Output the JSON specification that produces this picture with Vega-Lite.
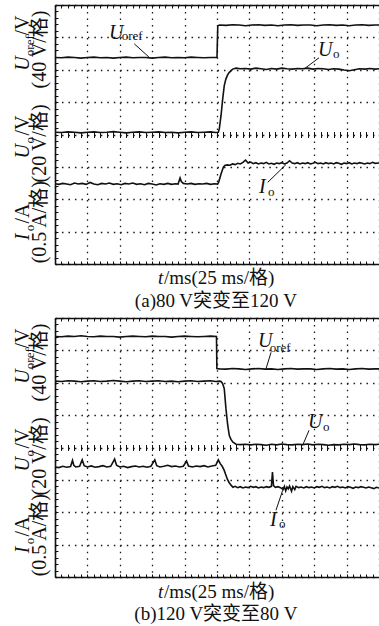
{
"$schema": "https://vega.github.io/schema/vega-lite/v6.json",
"background": "white",
"padding": {"left": 12, "top": 4, "right": 0, "bottom": 0},
"config": {"view": {"stroke": null}, "font": "Liberation Serif"},
"spacing": 54,
"bounds": "flush",
"datasets": {
"ta": [
{"s":"r","t":0,"v":6.38},{"s":"r","t":5,"v":6.37},{"s":"r","t":10,"v":6.39},{"s":"r","t":15,"v":6.38},{"s":"r","t":20,"v":6.36},{"s":"r","t":25,"v":6.38},{"s":"r","t":30,"v":6.39},{"s":"r","t":35,"v":6.37},{"s":"r","t":40,"v":6.38},{"s":"r","t":45,"v":6.36},{"s":"r","t":50,"v":6.38},{"s":"r","t":55,"v":6.39},{"s":"r","t":60,"v":6.37},{"s":"r","t":65,"v":6.38},{"s":"r","t":70,"v":6.38},{"s":"r","t":75,"v":6.36},{"s":"r","t":80,"v":6.38},{"s":"r","t":85,"v":6.39},{"s":"r","t":90,"v":6.37},{"s":"r","t":95,"v":6.38},{"s":"r","t":100,"v":6.37},{"s":"r","t":105,"v":6.39},{"s":"r","t":110,"v":6.38},{"s":"r","t":115,"v":6.37},{"s":"r","t":120,"v":6.38},{"s":"r","t":125,"v":6.38},{"s":"r","t":125.6,"v":7.36},{"s":"r","t":127,"v":7.38},{"s":"r","t":132,"v":7.37},{"s":"r","t":137,"v":7.39},{"s":"r","t":142,"v":7.38},{"s":"r","t":147,"v":7.36},{"s":"r","t":152,"v":7.38},{"s":"r","t":157,"v":7.39},{"s":"r","t":162,"v":7.37},{"s":"r","t":167,"v":7.38},{"s":"r","t":172,"v":7.36},{"s":"r","t":177,"v":7.38},{"s":"r","t":182,"v":7.39},{"s":"r","t":187,"v":7.37},{"s":"r","t":192,"v":7.38},{"s":"r","t":197,"v":7.38},{"s":"r","t":202,"v":7.36},{"s":"r","t":207,"v":7.38},{"s":"r","t":212,"v":7.39},{"s":"r","t":217,"v":7.37},{"s":"r","t":222,"v":7.38},{"s":"r","t":227,"v":7.36},{"s":"r","t":232,"v":7.38},{"s":"r","t":237,"v":7.39},{"s":"r","t":242,"v":7.37},{"s":"r","t":247,"v":7.38},{"s":"r","t":250,"v":7.38},
{"s":"o","t":0,"v":4.07},{"s":"o","t":5,"v":4.06},{"s":"o","t":10,"v":4.08},{"s":"o","t":15,"v":4.07},{"s":"o","t":20,"v":4.05},{"s":"o","t":25,"v":4.07},{"s":"o","t":30,"v":4.08},{"s":"o","t":35,"v":4.06},{"s":"o","t":40,"v":4.07},{"s":"o","t":45,"v":4.09},{"s":"o","t":50,"v":4.07},{"s":"o","t":55,"v":4.05},{"s":"o","t":60,"v":4.07},{"s":"o","t":65,"v":4.08},{"s":"o","t":70,"v":4.06},{"s":"o","t":75,"v":4.07},{"s":"o","t":80,"v":4.08},{"s":"o","t":85,"v":4.06},{"s":"o","t":90,"v":4.07},{"s":"o","t":95,"v":4.05},{"s":"o","t":100,"v":4.07},{"s":"o","t":105,"v":4.08},{"s":"o","t":110,"v":4.06},{"s":"o","t":115,"v":4.07},{"s":"o","t":120,"v":4.08},{"s":"o","t":124,"v":4.06},{"s":"o","t":126,"v":4.07},{"s":"o","t":126.8,"v":4.18},{"s":"o","t":128.1,"v":4.58},{"s":"o","t":129.4,"v":5.1},{"s":"o","t":130.6,"v":5.51},{"s":"o","t":131.9,"v":5.72},{"s":"o","t":133.2,"v":5.84},{"s":"o","t":134.5,"v":5.92},{"s":"o","t":137.1,"v":6.02},{"s":"o","t":139.7,"v":6.05},{"s":"o","t":143,"v":6.03},{"s":"o","t":147,"v":6.04},{"s":"o","t":151,"v":6.02},{"s":"o","t":155,"v":6.05},{"s":"o","t":159,"v":6.03},{"s":"o","t":163,"v":6.01},{"s":"o","t":167,"v":6.04},{"s":"o","t":171,"v":6.02},{"s":"o","t":175,"v":6.05},{"s":"o","t":179,"v":6.03},{"s":"o","t":183,"v":6.02},{"s":"o","t":187,"v":6.04},{"s":"o","t":191,"v":6.03},{"s":"o","t":195,"v":6.05},{"s":"o","t":199,"v":6.02},{"s":"o","t":203,"v":6.04},{"s":"o","t":207,"v":6.03},{"s":"o","t":211,"v":6.01},{"s":"o","t":215,"v":6.03},{"s":"o","t":219,"v":6.02},{"s":"o","t":223,"v":5.99},{"s":"o","t":227,"v":5.97},{"s":"o","t":231,"v":6.0},{"s":"o","t":235,"v":6.03},{"s":"o","t":239,"v":6.02},{"s":"o","t":243,"v":6.04},{"s":"o","t":247,"v":6.02},{"s":"o","t":250,"v":6.03},
{"s":"i","t":0,"v":2.48},{"s":"i","t":3,"v":2.46},{"s":"i","t":6,"v":2.49},{"s":"i","t":9,"v":2.47},{"s":"i","t":12,"v":2.45},{"s":"i","t":15,"v":2.5},{"s":"i","t":18,"v":2.47},{"s":"i","t":21,"v":2.49},{"s":"i","t":24,"v":2.46},{"s":"i","t":27,"v":2.52},{"s":"i","t":30,"v":2.47},{"s":"i","t":33,"v":2.45},{"s":"i","t":36,"v":2.49},{"s":"i","t":39,"v":2.47},{"s":"i","t":42,"v":2.5},{"s":"i","t":45,"v":2.46},{"s":"i","t":48,"v":2.48},{"s":"i","t":51,"v":2.45},{"s":"i","t":54,"v":2.49},{"s":"i","t":57,"v":2.47},{"s":"i","t":60,"v":2.5},{"s":"i","t":63,"v":2.46},{"s":"i","t":66,"v":2.48},{"s":"i","t":69,"v":2.45},{"s":"i","t":72,"v":2.49},{"s":"i","t":75,"v":2.47},{"s":"i","t":78,"v":2.44},{"s":"i","t":81,"v":2.48},{"s":"i","t":84,"v":2.46},{"s":"i","t":87,"v":2.49},{"s":"i","t":90,"v":2.46},{"s":"i","t":93,"v":2.48},{"s":"i","t":95,"v":2.47},{"s":"i","t":96.5,"v":2.66},{"s":"i","t":97.5,"v":2.55},{"s":"i","t":99,"v":2.49},{"s":"i","t":102,"v":2.47},{"s":"i","t":105,"v":2.49},{"s":"i","t":108,"v":2.46},{"s":"i","t":111,"v":2.48},{"s":"i","t":114,"v":2.47},{"s":"i","t":117,"v":2.49},{"s":"i","t":120,"v":2.46},{"s":"i","t":123,"v":2.48},{"s":"i","t":125.5,"v":2.47},{"s":"i","t":126.3,"v":2.53},{"s":"i","t":128.1,"v":2.78},{"s":"i","t":129.9,"v":2.99},{"s":"i","t":131,"v":3.04},{"s":"i","t":133,"v":3.06},{"s":"i","t":135,"v":3.05},{"s":"i","t":137,"v":3.09},{"s":"i","t":139,"v":3.07},{"s":"i","t":141,"v":3.11},{"s":"i","t":143,"v":3.09},{"s":"i","t":145,"v":3.14},{"s":"i","t":147,"v":3.21},{"s":"i","t":149,"v":3.12},{"s":"i","t":151,"v":3.15},{"s":"i","t":153,"v":3.1},{"s":"i","t":155,"v":3.13},{"s":"i","t":157,"v":3.09},{"s":"i","t":159,"v":3.12},{"s":"i","t":161,"v":3.1},{"s":"i","t":163,"v":3.14},{"s":"i","t":165,"v":3.09},{"s":"i","t":167,"v":3.11},{"s":"i","t":169,"v":3.08},{"s":"i","t":171,"v":3.12},{"s":"i","t":173,"v":3.1},{"s":"i","t":175,"v":3.13},{"s":"i","t":177,"v":3.09},{"s":"i","t":179,"v":3.12},{"s":"i","t":181,"v":3.19},{"s":"i","t":183,"v":3.12},{"s":"i","t":185,"v":3.1},{"s":"i","t":187,"v":3.13},{"s":"i","t":189,"v":3.09},{"s":"i","t":191,"v":3.12},{"s":"i","t":193,"v":3.1},{"s":"i","t":195,"v":3.13},{"s":"i","t":197,"v":3.09},{"s":"i","t":199,"v":3.11},{"s":"i","t":201,"v":3.14},{"s":"i","t":203,"v":3.1},{"s":"i","t":205,"v":3.12},{"s":"i","t":207,"v":3.09},{"s":"i","t":209,"v":3.13},{"s":"i","t":211,"v":3.1},{"s":"i","t":213,"v":3.12},{"s":"i","t":215,"v":3.09},{"s":"i","t":217,"v":3.13},{"s":"i","t":219,"v":3.11},{"s":"i","t":221,"v":3.08},{"s":"i","t":223,"v":3.12},{"s":"i","t":225,"v":3.1},{"s":"i","t":227,"v":3.13},{"s":"i","t":229,"v":3.09},{"s":"i","t":231,"v":3.12},{"s":"i","t":233,"v":3.1},{"s":"i","t":235,"v":3.13},{"s":"i","t":237,"v":3.11},{"s":"i","t":239,"v":3.09},{"s":"i","t":241,"v":3.12},{"s":"i","t":243,"v":3.1},{"s":"i","t":245,"v":3.14},{"s":"i","t":247,"v":3.11},{"s":"i","t":250,"v":3.12}
],
"tb": [
{"s":"r","t":0,"v":7.43},{"s":"r","t":5,"v":7.42},{"s":"r","t":10,"v":7.44},{"s":"r","t":15,"v":7.43},{"s":"r","t":20,"v":7.45},{"s":"r","t":25,"v":7.43},{"s":"r","t":30,"v":7.42},{"s":"r","t":35,"v":7.44},{"s":"r","t":40,"v":7.43},{"s":"r","t":45,"v":7.43},{"s":"r","t":50,"v":7.41},{"s":"r","t":55,"v":7.43},{"s":"r","t":60,"v":7.44},{"s":"r","t":65,"v":7.43},{"s":"r","t":70,"v":7.42},{"s":"r","t":75,"v":7.44},{"s":"r","t":80,"v":7.43},{"s":"r","t":85,"v":7.43},{"s":"r","t":90,"v":7.41},{"s":"r","t":95,"v":7.43},{"s":"r","t":100,"v":7.44},{"s":"r","t":105,"v":7.43},{"s":"r","t":110,"v":7.42},{"s":"r","t":115,"v":7.43},{"s":"r","t":120,"v":7.44},{"s":"r","t":124.6,"v":7.43},{"s":"r","t":124.9,"v":6.44},{"s":"r","t":127,"v":6.43},{"s":"r","t":132,"v":6.42},{"s":"r","t":137,"v":6.44},{"s":"r","t":142,"v":6.43},{"s":"r","t":147,"v":6.41},{"s":"r","t":152,"v":6.43},{"s":"r","t":157,"v":6.44},{"s":"r","t":162,"v":6.42},{"s":"r","t":167,"v":6.43},{"s":"r","t":172,"v":6.41},{"s":"r","t":177,"v":6.43},{"s":"r","t":182,"v":6.44},{"s":"r","t":187,"v":6.42},{"s":"r","t":192,"v":6.43},{"s":"r","t":197,"v":6.43},{"s":"r","t":202,"v":6.41},{"s":"r","t":207,"v":6.43},{"s":"r","t":212,"v":6.44},{"s":"r","t":217,"v":6.42},{"s":"r","t":222,"v":6.43},{"s":"r","t":227,"v":6.41},{"s":"r","t":232,"v":6.43},{"s":"r","t":237,"v":6.44},{"s":"r","t":242,"v":6.42},{"s":"r","t":247,"v":6.43},{"s":"r","t":250,"v":6.43},
{"s":"o","t":0,"v":6.05},{"s":"o","t":5,"v":6.04},{"s":"o","t":10,"v":6.06},{"s":"o","t":15,"v":6.05},{"s":"o","t":20,"v":6.03},{"s":"o","t":25,"v":6.05},{"s":"o","t":30,"v":6.06},{"s":"o","t":35,"v":6.04},{"s":"o","t":40,"v":6.05},{"s":"o","t":45,"v":6.07},{"s":"o","t":50,"v":6.05},{"s":"o","t":55,"v":6.03},{"s":"o","t":60,"v":6.05},{"s":"o","t":65,"v":6.06},{"s":"o","t":70,"v":6.04},{"s":"o","t":75,"v":6.05},{"s":"o","t":80,"v":6.06},{"s":"o","t":85,"v":6.04},{"s":"o","t":90,"v":6.05},{"s":"o","t":95,"v":6.03},{"s":"o","t":100,"v":6.05},{"s":"o","t":105,"v":6.06},{"s":"o","t":110,"v":6.04},{"s":"o","t":115,"v":6.05},{"s":"o","t":120,"v":6.06},{"s":"o","t":124,"v":6.04},{"s":"o","t":127,"v":6.05},{"s":"o","t":128.1,"v":6.04},{"s":"o","t":129.3,"v":5.98},{"s":"o","t":130.6,"v":5.82},{"s":"o","t":131.9,"v":5.2},{"s":"o","t":133.3,"v":4.68},{"s":"o","t":134.5,"v":4.37},{"s":"o","t":135.8,"v":4.25},{"s":"o","t":137.1,"v":4.17},{"s":"o","t":139.7,"v":4.1},{"s":"o","t":143,"v":4.09},{"s":"o","t":147,"v":4.1},{"s":"o","t":151,"v":4.08},{"s":"o","t":155,"v":4.1},{"s":"o","t":159,"v":4.09},{"s":"o","t":163,"v":4.07},{"s":"o","t":167,"v":4.1},{"s":"o","t":171,"v":4.08},{"s":"o","t":175,"v":4.11},{"s":"o","t":179,"v":4.09},{"s":"o","t":183,"v":4.08},{"s":"o","t":187,"v":4.1},{"s":"o","t":191,"v":4.09},{"s":"o","t":195,"v":4.11},{"s":"o","t":199,"v":4.08},{"s":"o","t":203,"v":4.1},{"s":"o","t":207,"v":4.09},{"s":"o","t":211,"v":4.07},{"s":"o","t":215,"v":4.09},{"s":"o","t":219,"v":4.08},{"s":"o","t":223,"v":4.1},{"s":"o","t":227,"v":4.09},{"s":"o","t":231,"v":4.11},{"s":"o","t":235,"v":4.09},{"s":"o","t":239,"v":4.08},{"s":"o","t":243,"v":4.1},{"s":"o","t":247,"v":4.09},{"s":"o","t":250,"v":4.1},
{"s":"i","t":0,"v":3.4},{"s":"i","t":3,"v":3.38},{"s":"i","t":6,"v":3.42},{"s":"i","t":9,"v":3.39},{"s":"i","t":12,"v":3.41},{"s":"i","t":13.5,"v":3.6},{"s":"i","t":14.5,"v":3.45},{"s":"i","t":16,"v":3.4},{"s":"i","t":19,"v":3.42},{"s":"i","t":21,"v":3.62},{"s":"i","t":22.5,"v":3.44},{"s":"i","t":25,"v":3.4},{"s":"i","t":28,"v":3.43},{"s":"i","t":31,"v":3.39},{"s":"i","t":34,"v":3.41},{"s":"i","t":37,"v":3.44},{"s":"i","t":40,"v":3.4},{"s":"i","t":43,"v":3.42},{"s":"i","t":46,"v":3.64},{"s":"i","t":47.5,"v":3.45},{"s":"i","t":50,"v":3.4},{"s":"i","t":53,"v":3.42},{"s":"i","t":56,"v":3.38},{"s":"i","t":59,"v":3.41},{"s":"i","t":62,"v":3.43},{"s":"i","t":65,"v":3.4},{"s":"i","t":68,"v":3.42},{"s":"i","t":71,"v":3.39},{"s":"i","t":74,"v":3.42},{"s":"i","t":77,"v":3.62},{"s":"i","t":78.5,"v":3.44},{"s":"i","t":81,"v":3.4},{"s":"i","t":84,"v":3.42},{"s":"i","t":87,"v":3.45},{"s":"i","t":90,"v":3.41},{"s":"i","t":93,"v":3.43},{"s":"i","t":96,"v":3.4},{"s":"i","t":99,"v":3.42},{"s":"i","t":101.5,"v":3.58},{"s":"i","t":103,"v":3.43},{"s":"i","t":106,"v":3.4},{"s":"i","t":109,"v":3.43},{"s":"i","t":112,"v":3.41},{"s":"i","t":115,"v":3.44},{"s":"i","t":118,"v":3.4},{"s":"i","t":121,"v":3.43},{"s":"i","t":124,"v":3.45},{"s":"i","t":126,"v":3.62},{"s":"i","t":127.5,"v":3.5},{"s":"i","t":129,"v":3.42},{"s":"i","t":130.5,"v":3.3},{"s":"i","t":131.9,"v":3.14},{"s":"i","t":133,"v":3.02},{"s":"i","t":134.3,"v":2.92},{"s":"i","t":136,"v":2.83},{"s":"i","t":137.3,"v":2.77},{"s":"i","t":139,"v":2.8},{"s":"i","t":141,"v":2.76},{"s":"i","t":143,"v":2.79},{"s":"i","t":145,"v":2.75},{"s":"i","t":147,"v":2.78},{"s":"i","t":149,"v":2.76},{"s":"i","t":151,"v":2.8},{"s":"i","t":153,"v":2.77},{"s":"i","t":155,"v":2.79},{"s":"i","t":157,"v":2.75},{"s":"i","t":159,"v":2.78},{"s":"i","t":161,"v":2.76},{"s":"i","t":163,"v":2.79},{"s":"i","t":165,"v":2.77},{"s":"i","t":167,"v":2.8},{"s":"i","t":167.8,"v":3.24},{"s":"i","t":168.6,"v":2.82},{"s":"i","t":170,"v":2.77},{"s":"i","t":172,"v":2.79},{"s":"i","t":174,"v":2.76},{"s":"i","t":176,"v":2.7},{"s":"i","t":177,"v":2.8},{"s":"i","t":178,"v":2.66},{"s":"i","t":179,"v":2.78},{"s":"i","t":180,"v":2.72},{"s":"i","t":181,"v":2.81},{"s":"i","t":182.5,"v":2.65},{"s":"i","t":183.5,"v":2.79},{"s":"i","t":185,"v":2.7},{"s":"i","t":186,"v":2.8},{"s":"i","t":188,"v":2.76},{"s":"i","t":190,"v":2.78},{"s":"i","t":192,"v":2.75},{"s":"i","t":194,"v":2.79},{"s":"i","t":196,"v":2.76},{"s":"i","t":198,"v":2.78},{"s":"i","t":200,"v":2.75},{"s":"i","t":202,"v":2.79},{"s":"i","t":204,"v":2.77},{"s":"i","t":206,"v":2.8},{"s":"i","t":208,"v":2.76},{"s":"i","t":210,"v":2.78},{"s":"i","t":212,"v":2.75},{"s":"i","t":214,"v":2.79},{"s":"i","t":216,"v":2.77},{"s":"i","t":218,"v":2.8},{"s":"i","t":220,"v":2.76},{"s":"i","t":222,"v":2.78},{"s":"i","t":224,"v":2.75},{"s":"i","t":226,"v":2.79},{"s":"i","t":228,"v":2.77},{"s":"i","t":230,"v":2.74},{"s":"i","t":232,"v":2.78},{"s":"i","t":234,"v":2.76},{"s":"i","t":236,"v":2.79},{"s":"i","t":238,"v":2.77},{"s":"i","t":240,"v":2.75},{"s":"i","t":242,"v":2.78},{"s":"i","t":244,"v":2.76},{"s":"i","t":246,"v":2.73},{"s":"i","t":248,"v":2.77},{"s":"i","t":250,"v":2.75}
],
"la": [
{"k":"v","txt":"U","t":41.7,"v":6.96},{"k":"s","txt":"oref","t":51.5,"v":6.91},
{"k":"v","txt":"U","t":202.9,"v":6.43},{"k":"s","txt":"o","t":214.5,"v":6.37},
{"k":"v","txt":"I","t":157.4,"v":2.18},{"k":"s","txt":"o","t":164.4,"v":2.11},
{"k":"bv","txt":"t","t":79.5,"v":-0.44},{"k":"bn","txt":"/ms(25 ms/格)","t":84.1,"v":-0.44},
{"k":"bc","txt":"(a)80 V突变至120 V","t":124.2,"v":-1.13}
],
"lb": [
{"k":"v","txt":"U","t":156.6,"v":7.09},{"k":"s","txt":"oref","t":165.7,"v":6.95},
{"k":"v","txt":"U","t":195.2,"v":4.59},{"k":"s","txt":"o","t":206.8,"v":4.5},
{"k":"v","txt":"I","t":165.9,"v":1.59},{"k":"s","txt":"o","t":172.8,"v":1.5},
{"k":"bv","txt":"t","t":79.5,"v":-0.46},{"k":"bn","txt":"/ms(25 ms/格)","t":84.1,"v":-0.46},
{"k":"bc","txt":"(b)120 V突变至80 V","t":124.2,"v":-1.13}
],
"ax": [
{"k":"v","txt":"U","t":-20.1,"v":5.97},{"k":"s","txt":"oref","t":-16.2,"v":6.42},{"k":"n","txt":"/V","t":-20.1,"v":7.06},{"k":"n","txt":"(40 V/格)","t":-6.6,"v":5.42},
{"k":"v","txt":"U","t":-20.1,"v":3.26},{"k":"s","txt":"o","t":-16.2,"v":3.72},{"k":"n","txt":"/V","t":-20.1,"v":3.97},{"k":"n","txt":"(20 V/格)","t":-6.6,"v":2.52},
{"k":"v","txt":"I","t":-20.1,"v":0.73},{"k":"s","txt":"o","t":-16.2,"v":1.01},{"k":"n","txt":"/A","t":-20.1,"v":1.25},{"k":"n","txt":"(0.5 A/格)","t":-6.6,"v":0.02}
],
"da": [
{"t":61.2,"v":6.8,"t2":72.8,"v2":6.38},{"t":203.7,"v":6.37,"t2":192.1,"v2":6.02},{"t":164.1,"v":2.52,"t2":178.2,"v2":3.07}
],
"db": [
{"t":166.7,"v":6.94,"t2":162.8,"v2":6.43},{"t":196.0,"v":4.53,"t2":191.1,"v2":4.07},{"t":170.5,"v":2.06,"t2":175.7,"v2":2.68}
]
},
"vconcat": [
{
"width": 324, "height": 259,
"resolve": {"axis": {"x": "independent", "y": "independent"}},
"layer": [
{"data": {"name": "ta"}, "mark": {"type": "line", "color": "#111", "strokeWidth": 1.6},
 "encoding": {
  "x": {"field": "t", "type": "quantitative", "scale": {"domain": [0, 250], "nice": false, "zero": false},
   "axis": {"orient": "bottom", "values": [0,25,50,75,100,125,150,175,200,225,250], "grid": true, "gridDash": [1.5, 4.98], "gridColor": "#1a1a1a", "gridWidth": 1.3, "gridOpacity": 1, "ticks": false, "labels": false, "domain": true, "domainColor": "#111", "domainWidth": 1.6, "title": null}},
  "y": {"field": "v", "type": "quantitative", "scale": {"domain": [0, 8], "nice": false, "zero": false},
   "axis": {"orient": "left", "values": [0,1,2,3,4,5,6,7,8], "grid": true, "gridDash": [1.5, 4.98], "gridColor": "#1a1a1a", "gridWidth": 1.3, "gridOpacity": 1, "ticks": false, "labels": false, "domain": true, "domainColor": "#111", "domainWidth": 1.6, "title": null}},
  "detail": {"field": "s"}
 }},
{"data": {"name": "da"}, "mark": {"type": "rule", "color": "#111", "strokeWidth": 1},
 "encoding": {
  "x": {"field": "t", "type": "quantitative", "axis": {"orient": "top", "values": [0,5,10,15,20,25,30,35,40,45,50,55,60,65,70,75,80,85,90,95,100,105,110,115,120,125,130,135,140,145,150,155,160,165,170,175,180,185,190,195,200,205,210,215,220,225,230,235,240,245,250], "ticks": true, "tickSize": -3, "tickColor": "#111", "tickWidth": 1, "labels": false, "grid": false, "domain": true, "domainColor": "#111", "domainWidth": 1.6, "title": null}},
  "y": {"field": "v", "type": "quantitative", "axis": null},
  "x2": {"field": "t2"}, "y2": {"field": "v2"}
 }},
{"mark": {"type": "rule", "color": "#8a8a8a", "strokeWidth": 3, "strokeDash": [3, 1.5]},
 "encoding": {"x": {"datum": 125, "type": "quantitative", "axis": null}}},
{"mark": {"type": "point", "shape": "triangle-left", "filled": true, "color": "#111", "size": 45, "opacity": 1},
 "encoding": {"x": {"datum": 247.5, "type": "quantitative", "axis": null}, "y": {"datum": 4.86, "type": "quantitative", "axis": null}}},
{"data": {"name": "la"}, "transform": [{"filter": "datum.k == 'v'"}],
 "mark": {"type": "text", "font": "Liberation Serif", "fontStyle": "italic", "fontSize": 20, "align": "left", "baseline": "alphabetic", "color": "#111"},
 "encoding": {
  "x": {"field": "t", "type": "quantitative", "axis": {"orient": "bottom", "values": [0,5,10,15,20,25,30,35,40,45,50,55,60,65,70,75,80,85,90,95,100,105,110,115,120,125,130,135,140,145,150,155,160,165,170,175,180,185,190,195,200,205,210,215,220,225,230,235,240,245,250], "ticks": true, "tickSize": -3, "tickColor": "#111", "tickWidth": 1, "labels": false, "grid": false, "domain": false, "title": null}},
  "y": {"field": "v", "type": "quantitative", "axis": {"orient": "left", "values": [0,0.2,0.4,0.6,0.8,1,1.2,1.4,1.6,1.8,2,2.2,2.4,2.6,2.8,3,3.2,3.4,3.6,3.8,4,4.2,4.4,4.6,4.8,5,5.2,5.4,5.6,5.8,6,6.2,6.4,6.6,6.8,7,7.2,7.4,7.6,7.8,8], "ticks": true, "tickSize": -3, "tickColor": "#111", "tickWidth": 1, "labels": false, "grid": false, "domain": false, "title": null}},
  "text": {"field": "txt"}
 }},
{"data": {"name": "la"}, "transform": [{"filter": "datum.k == 's'"}],
 "mark": {"type": "text", "font": "Liberation Serif", "fontSize": 13, "align": "left", "baseline": "alphabetic", "color": "#111"},
 "encoding": {
  "x": {"field": "t", "type": "quantitative", "axis": {"orient": "bottom", "offset": -132.5, "values": [0,5,10,15,20,25,30,35,40,45,50,55,60,65,70,75,80,85,90,95,100,105,110,115,120,125,130,135,140,145,150,155,160,165,170,175,180,185,190,195,200,205,210,215,220,225,230,235,240,245,250], "ticks": true, "tickSize": 6, "tickColor": "#111", "tickWidth": 1, "labels": false, "grid": false, "domain": false, "title": null}},
  "y": {"field": "v", "type": "quantitative", "axis": null},
  "text": {"field": "txt"}
 }},
{"data": {"name": "la"}, "transform": [{"filter": "datum.k == 'bv'"}],
 "mark": {"type": "text", "font": "Liberation Serif", "fontStyle": "italic", "fontSize": 19, "align": "left", "baseline": "middle", "color": "#111"},
 "encoding": {"x": {"field": "t", "type": "quantitative", "axis": null}, "y": {"field": "v", "type": "quantitative", "axis": null}, "text": {"field": "txt"}}},
{"data": {"name": "la"}, "transform": [{"filter": "datum.k == 'bn'"}],
 "mark": {"type": "text", "font": "Liberation Serif, Noto Sans CJK SC", "fontSize": 19, "align": "left", "baseline": "middle", "color": "#111"},
 "encoding": {"x": {"field": "t", "type": "quantitative", "axis": null}, "y": {"field": "v", "type": "quantitative", "axis": null}, "text": {"field": "txt"}}},
{"data": {"name": "la"}, "transform": [{"filter": "datum.k == 'bc'"}],
 "mark": {"type": "text", "font": "Liberation Serif, Noto Sans CJK SC", "fontSize": 19, "align": "center", "baseline": "middle", "color": "#111"},
 "encoding": {"x": {"field": "t", "type": "quantitative", "axis": null}, "y": {"field": "v", "type": "quantitative", "axis": null}, "text": {"field": "txt"}}},
{"data": {"name": "ax"}, "transform": [{"filter": "datum.k == 'v'"}],
 "mark": {"type": "text", "font": "Liberation Serif", "fontStyle": "italic", "fontSize": 20, "angle": 270, "align": "left", "baseline": "alphabetic", "color": "#111"},
 "encoding": {"x": {"field": "t", "type": "quantitative", "axis": null}, "y": {"field": "v", "type": "quantitative", "axis": null}, "text": {"field": "txt"}}},
{"data": {"name": "ax"}, "transform": [{"filter": "datum.k == 's'"}],
 "mark": {"type": "text", "font": "Liberation Serif", "fontSize": 13, "angle": 270, "align": "left", "baseline": "alphabetic", "color": "#111"},
 "encoding": {"x": {"field": "t", "type": "quantitative", "axis": null}, "y": {"field": "v", "type": "quantitative", "axis": null}, "text": {"field": "txt"}}},
{"data": {"name": "ax"}, "transform": [{"filter": "datum.k == 'n'"}],
 "mark": {"type": "text", "font": "Liberation Serif, Noto Sans CJK SC", "fontSize": 20, "angle": 270, "align": "left", "baseline": "alphabetic", "color": "#111"},
 "encoding": {"x": {"field": "t", "type": "quantitative", "axis": null}, "y": {"field": "v", "type": "quantitative", "axis": null}, "text": {"field": "txt"}}}
]
},
{
"width": 324, "height": 259,
"resolve": {"axis": {"x": "independent", "y": "independent"}},
"layer": [
{"data": {"name": "tb"}, "mark": {"type": "line", "color": "#111", "strokeWidth": 1.6},
 "encoding": {
  "x": {"field": "t", "type": "quantitative", "scale": {"domain": [0, 250], "nice": false, "zero": false},
   "axis": {"orient": "bottom", "values": [0,25,50,75,100,125,150,175,200,225,250], "grid": true, "gridDash": [1.5, 4.98], "gridColor": "#1a1a1a", "gridWidth": 1.3, "gridOpacity": 1, "ticks": false, "labels": false, "domain": true, "domainColor": "#111", "domainWidth": 1.6, "title": null}},
  "y": {"field": "v", "type": "quantitative", "scale": {"domain": [0, 8], "nice": false, "zero": false},
   "axis": {"orient": "left", "values": [0,1,2,3,4,5,6,7,8], "grid": true, "gridDash": [1.5, 4.98], "gridColor": "#1a1a1a", "gridWidth": 1.3, "gridOpacity": 1, "ticks": false, "labels": false, "domain": true, "domainColor": "#111", "domainWidth": 1.6, "title": null}},
  "detail": {"field": "s"}
 }},
{"data": {"name": "db"}, "mark": {"type": "rule", "color": "#111", "strokeWidth": 1},
 "encoding": {
  "x": {"field": "t", "type": "quantitative", "axis": {"orient": "top", "values": [0,5,10,15,20,25,30,35,40,45,50,55,60,65,70,75,80,85,90,95,100,105,110,115,120,125,130,135,140,145,150,155,160,165,170,175,180,185,190,195,200,205,210,215,220,225,230,235,240,245,250], "ticks": true, "tickSize": -3, "tickColor": "#111", "tickWidth": 1, "labels": false, "grid": false, "domain": true, "domainColor": "#111", "domainWidth": 1.6, "title": null}},
  "y": {"field": "v", "type": "quantitative", "axis": null},
  "x2": {"field": "t2"}, "y2": {"field": "v2"}
 }},
{"mark": {"type": "rule", "color": "#8a8a8a", "strokeWidth": 3, "strokeDash": [3, 1.5]},
 "encoding": {"x": {"datum": 125, "type": "quantitative", "axis": null}}},
{"mark": {"type": "point", "shape": "triangle-left", "filled": true, "color": "#111", "size": 45, "opacity": 1},
 "encoding": {"x": {"datum": 247.5, "type": "quantitative", "axis": null}, "y": {"datum": 4.9, "type": "quantitative", "axis": null}}},
{"data": {"name": "lb"}, "transform": [{"filter": "datum.k == 'v'"}],
 "mark": {"type": "text", "font": "Liberation Serif", "fontStyle": "italic", "fontSize": 20, "align": "left", "baseline": "alphabetic", "color": "#111"},
 "encoding": {
  "x": {"field": "t", "type": "quantitative", "axis": {"orient": "bottom", "values": [0,5,10,15,20,25,30,35,40,45,50,55,60,65,70,75,80,85,90,95,100,105,110,115,120,125,130,135,140,145,150,155,160,165,170,175,180,185,190,195,200,205,210,215,220,225,230,235,240,245,250], "ticks": true, "tickSize": -3, "tickColor": "#111", "tickWidth": 1, "labels": false, "grid": false, "domain": false, "title": null}},
  "y": {"field": "v", "type": "quantitative", "axis": {"orient": "left", "values": [0,0.2,0.4,0.6,0.8,1,1.2,1.4,1.6,1.8,2,2.2,2.4,2.6,2.8,3,3.2,3.4,3.6,3.8,4,4.2,4.4,4.6,4.8,5,5.2,5.4,5.6,5.8,6,6.2,6.4,6.6,6.8,7,7.2,7.4,7.6,7.8,8], "ticks": true, "tickSize": -3, "tickColor": "#111", "tickWidth": 1, "labels": false, "grid": false, "domain": false, "title": null}},
  "text": {"field": "txt"}
 }},
{"data": {"name": "lb"}, "transform": [{"filter": "datum.k == 's'"}],
 "mark": {"type": "text", "font": "Liberation Serif", "fontSize": 13, "align": "left", "baseline": "alphabetic", "color": "#111"},
 "encoding": {
  "x": {"field": "t", "type": "quantitative", "axis": {"orient": "bottom", "offset": -132.5, "values": [0,5,10,15,20,25,30,35,40,45,50,55,60,65,70,75,80,85,90,95,100,105,110,115,120,125,130,135,140,145,150,155,160,165,170,175,180,185,190,195,200,205,210,215,220,225,230,235,240,245,250], "ticks": true, "tickSize": 6, "tickColor": "#111", "tickWidth": 1, "labels": false, "grid": false, "domain": false, "title": null}},
  "y": {"field": "v", "type": "quantitative", "axis": null},
  "text": {"field": "txt"}
 }},
{"data": {"name": "lb"}, "transform": [{"filter": "datum.k == 'bv'"}],
 "mark": {"type": "text", "font": "Liberation Serif", "fontStyle": "italic", "fontSize": 19, "align": "left", "baseline": "middle", "color": "#111"},
 "encoding": {"x": {"field": "t", "type": "quantitative", "axis": null}, "y": {"field": "v", "type": "quantitative", "axis": null}, "text": {"field": "txt"}}},
{"data": {"name": "lb"}, "transform": [{"filter": "datum.k == 'bn'"}],
 "mark": {"type": "text", "font": "Liberation Serif, Noto Sans CJK SC", "fontSize": 19, "align": "left", "baseline": "middle", "color": "#111"},
 "encoding": {"x": {"field": "t", "type": "quantitative", "axis": null}, "y": {"field": "v", "type": "quantitative", "axis": null}, "text": {"field": "txt"}}},
{"data": {"name": "lb"}, "transform": [{"filter": "datum.k == 'bc'"}],
 "mark": {"type": "text", "font": "Liberation Serif, Noto Sans CJK SC", "fontSize": 19, "align": "center", "baseline": "middle", "color": "#111"},
 "encoding": {"x": {"field": "t", "type": "quantitative", "axis": null}, "y": {"field": "v", "type": "quantitative", "axis": null}, "text": {"field": "txt"}}},
{"data": {"name": "ax"}, "transform": [{"filter": "datum.k == 'v'"}],
 "mark": {"type": "text", "font": "Liberation Serif", "fontStyle": "italic", "fontSize": 20, "angle": 270, "align": "left", "baseline": "alphabetic", "color": "#111"},
 "encoding": {"x": {"field": "t", "type": "quantitative", "axis": null}, "y": {"field": "v", "type": "quantitative", "axis": null}, "text": {"field": "txt"}}},
{"data": {"name": "ax"}, "transform": [{"filter": "datum.k == 's'"}],
 "mark": {"type": "text", "font": "Liberation Serif", "fontSize": 13, "angle": 270, "align": "left", "baseline": "alphabetic", "color": "#111"},
 "encoding": {"x": {"field": "t", "type": "quantitative", "axis": null}, "y": {"field": "v", "type": "quantitative", "axis": null}, "text": {"field": "txt"}}},
{"data": {"name": "ax"}, "transform": [{"filter": "datum.k == 'n'"}],
 "mark": {"type": "text", "font": "Liberation Serif, Noto Sans CJK SC", "fontSize": 20, "angle": 270, "align": "left", "baseline": "alphabetic", "color": "#111"},
 "encoding": {"x": {"field": "t", "type": "quantitative", "axis": null}, "y": {"field": "v", "type": "quantitative", "axis": null}, "text": {"field": "txt"}}}
]
}
]
}
